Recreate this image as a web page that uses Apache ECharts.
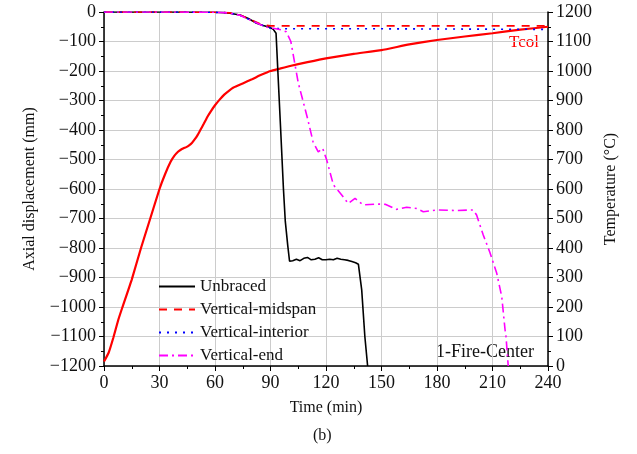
<!DOCTYPE html>
<html>
<head>
<meta charset="utf-8">
<script src="https://cdn.jsdelivr.net/npm/echarts@6/dist/echarts.min.js"></script>
<style>
html,body{margin:0;padding:0;background:#fff;}
#c{width:637px;height:454px;}
</style>
</head>
<body>
<div id="c"></div>
<script>
// ---- data ----
var xTicks = [0, 30, 60, 90, 120, 150, 180, 210, 240];

var tcolTime = [0,2.5,5,7.7,10,15,20,25,30,33,36,38,40,41.5,43,44.5,46,47.5,49,50.5,52,54,56,58,60,62.5,65,67.5,70,75,80,85,90,95,100,110,120,135,150,165,180,195,210,225,240];
var tcolTemp = [15,45,95,156,200,293,400,500,600,650,692,712,726,733,738,742,748,756,768,782,799,822,846,866,884,903,920,933,944,958,972,987,1000,1008,1016,1030,1043,1058,1071,1090,1105,1117,1128,1140,1150];

var unbracedTime = [0,20,40,60,65,68,73.5,78,82.5,86,89.7,91.5,93,94.2,95.5,97,98,99.3,100.3,101,102,104,106,108,110,112,114,116,118,120,122,124,126,128,130,132,134,136,137.5,138.5,139.3,141,142.5];
var unbracedDisp = [0,0,0,-1,-2,-4,-10,-22,-38,-46,-52,-59,-72,-230,-400,-600,-710,-790,-845,-845,-843,-838,-843,-835,-832,-840,-838,-833,-840,-840,-838,-840,-835,-838,-840,-842,-846,-850,-855,-860,-942,-1100,-1200];

var midspanTime = [0,20,40,60,65,68,73.5,80,85,90,100,150,200,240];
var midspanDisp = [0,0,0,-1,-2,-3,-10,-28,-42,-47,-47,-47,-47,-47];

var interiorTime = [0,20,40,60,65,68,73.5,80,85,90,100,150,200,240];
var interiorDisp = [0,0,0,-1,-2,-4,-11,-30,-44,-55,-57,-57,-58,-59];

var endTime = [0,20,40,60,65,68,73.5,80,85,89.7,91.5,96,98.5,101,103,105,107.5,110,113,115.8,118.2,120.4,124,128.5,132,135.7,140,147.4,152,158,163.6,169,172.6,180,190.6,199.6,201.4,205,208.6,212.3,215,216.8,217.3,218.5];
var endDisp = [0,0,0,-1,-2,-4,-11,-30,-44,-55,-55,-61,-67,-100,-170,-240,-300,-360,-440,-474,-462,-502,-586,-620,-649,-632,-654,-651,-652,-669,-662,-666,-677,-671,-673,-671,-688,-756,-815,-886,-965,-1078,-1100,-1200];

function pairs(t, v){ return t.map(function(x,i){ return [x, v[i]]; }); }

var FONT = '"Liberation Serif", "DejaVu Serif", serif';
var chart = echarts.init(document.getElementById('c'), null, {renderer:'canvas'});
function minus(v){ return String(v).replace('-', '\u2212'); }
function plain(v){ return String(v); }

chart.setOption({
  animation:false,
  backgroundColor:'#fff',
  textStyle:{fontFamily:FONT},
  grid:{left:104, right:89, top:12, bottom:88, containLabel:false},
  legend:{
    data:['Unbraced','Vertical-midspan','Vertical-interior','Vertical-end'],
    orient:'vertical', left:153, top:273, itemWidth:36, itemHeight:14, itemGap:6,
    itemStyle:{opacity:0},
    textStyle:{fontFamily:FONT, fontSize:17, color:'#111'}
  },
  xAxis:{
    type:'value', min:0, max:240, interval:30,
    name:'Time (min)', nameLocation:'middle', nameGap:34,
    nameTextStyle:{fontFamily:FONT, fontSize:16, color:'#111'},
    axisLine:{show:true, onZero:false, lineStyle:{color:'#000', width:1.5}},
    axisTick:{show:true, inside:false, length:5, lineStyle:{color:'#000'}},
    minorTick:{show:true, splitNumber:2, length:3, lineStyle:{color:'#000'}},
    axisLabel:{fontFamily:FONT, fontSize:18, color:'#111', margin:8, formatter:plain},
    splitLine:{show:true, lineStyle:{color:'#cccccc', width:1}}
  },
  yAxis:[{
    type:'value', min:-1200, max:0, interval:100,
    name:'Axial displacement (mm)', nameLocation:'middle', nameGap:66, nameRotate:90,
    nameTextStyle:{fontFamily:FONT, fontSize:16, color:'#111'},
    axisLine:{show:true, onZero:false, lineStyle:{color:'#000', width:1.5}},
    axisTick:{show:true, inside:false, length:5, lineStyle:{color:'#000'}},
    minorTick:{show:true, splitNumber:2, length:3, lineStyle:{color:'#000'}},
    axisLabel:{fontFamily:FONT, fontSize:18, color:'#111', margin:8, formatter:minus},
    splitLine:{show:true, lineStyle:{color:'#cccccc', width:1}}
  },{
    type:'value', min:0, max:1200, interval:100, position:'right',
    name:'Temperature (\u00B0C)', nameLocation:'middle', nameGap:54, nameRotate:90,
    nameTextStyle:{fontFamily:FONT, fontSize:16, color:'#111'},
    axisLine:{show:true, onZero:false, lineStyle:{color:'#000', width:1.5}},
    axisTick:{show:true, inside:false, length:5, lineStyle:{color:'#000'}},
    minorTick:{show:true, splitNumber:2, length:3, lineStyle:{color:'#000'}},
    axisLabel:{fontFamily:FONT, fontSize:18, color:'#111', margin:8, formatter:plain},
    splitLine:{show:false}
  }],
  series:[
    {name:'Tcol', type:'line', yAxisIndex:1, data:pairs(tcolTime,tcolTemp), showSymbol:false, symbol:'none', smooth:0.15,
     lineStyle:{color:'#ff0000', width:2.2}, itemStyle:{color:'#ff0000'}, z:3},
    {name:'Unbraced', type:'line', yAxisIndex:0, data:pairs(unbracedTime,unbracedDisp), symbol:'none',
     lineStyle:{color:'#000', width:1.6}, itemStyle:{color:'#000'}, z:4},
    {name:'Vertical-midspan', type:'line', yAxisIndex:0, data:pairs(midspanTime,midspanDisp), symbol:'none',
     lineStyle:{color:'#ff0000', width:1.6, type:[8,7]}, itemStyle:{color:'#ff0000'}, z:5},
    {name:'Vertical-interior', type:'line', yAxisIndex:0, data:pairs(interiorTime,interiorDisp), symbol:'none',
     lineStyle:{color:'#0000ff', width:1.6, type:[2,6]}, itemStyle:{color:'#0000ff'}, z:5},
    {name:'Vertical-end', type:'line', yAxisIndex:0, data:pairs(endTime,endDisp), symbol:'none',
     lineStyle:{color:'#ff00ff', width:1.6, type:[9,4,2,4]}, itemStyle:{color:'#ff00ff'}, z:5}
  ],
  graphic:[
    {type:'text', left:509, top:34, style:{text:'Tcol', fill:'#ff0000', font:'17px '+FONT}},
    {type:'text', left:436, top:343, style:{text:'1-Fire-Center', fill:'#111', font:'18px '+FONT}},
    {type:'text', left:313, top:428, style:{text:'(b)', fill:'#111', font:'16px '+FONT}}
  ]
});
</script>
</body>
</html>
